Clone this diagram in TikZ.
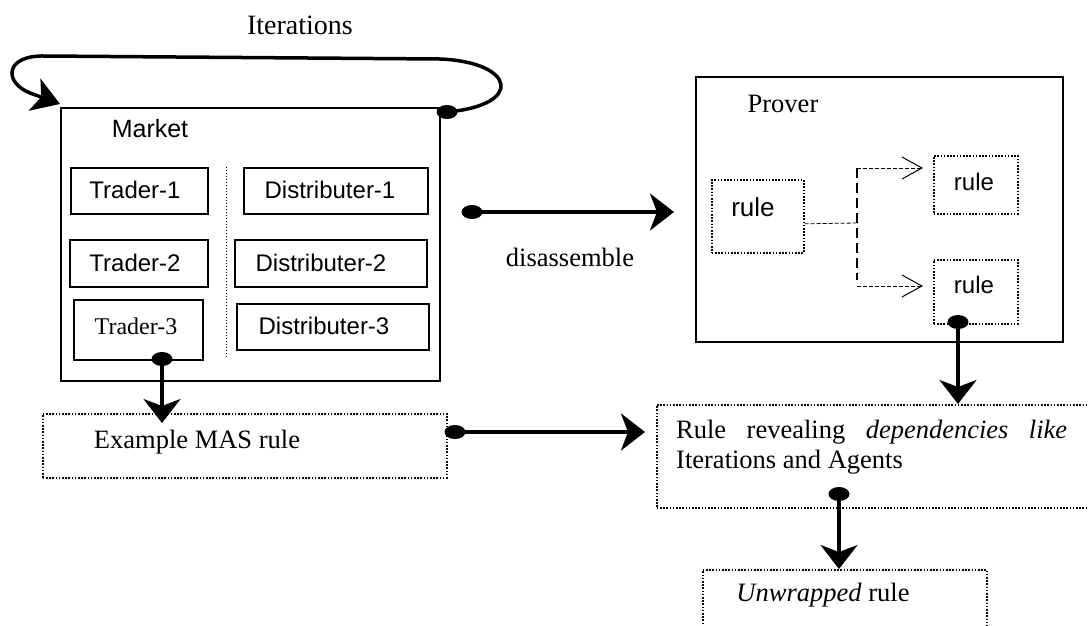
\documentclass[tikz,border=0pt]{standalone}
\usepackage{fontspec}
\setmainfont{Liberation Serif}
\setsansfont{Liberation Sans}
\usetikzlibrary{arrows.meta,shapes.geometric}
\begin{document}
\begin{tikzpicture}[x=1pt,y=-1pt,
  solidbox/.style={draw, line width=1.5pt, inner sep=0pt, anchor=north west},
  dotbox/.style={draw, line width=1.6pt, dash pattern=on 1.6pt off 1.6pt, inner sep=0pt, anchor=north west},
  sf/.style={font=\sffamily\fontsize{24}{27}\selectfont, inner sep=0pt},
  rm/.style={font=\rmfamily\fontsize{26.5}{30}\selectfont, inner sep=0pt},
  dot/.style={ellipse, fill=black, minimum width=21pt, minimum height=14pt, inner sep=0pt},
  arr/.style={line width=3.5pt, -{Stealth[length=24pt,width=37pt,inset=7pt]}},
  dashthin/.style={line width=0.8pt, dash pattern=on 4pt off 2pt},
  dashthick/.style={line width=1.6pt, dash pattern=on 10pt off 5pt},
  openarr/.style={-{Straight Barb[length=20pt,width=22pt,line width=1pt]}},
]
\useasboundingbox (0,0) rectangle (1088,625);
\clip (0,0) rectangle (1088,625);

% Market
\node[solidbox, minimum width=379pt, minimum height=273pt] (market) at (60,107) {};
\node[sf, font=\sffamily\fontsize{25}{28}\selectfont] (marketlbl) at (150,129) {Market};
\node[solidbox, minimum width=137pt, minimum height=46pt] (tr1) at (70,167) {};
\node[sf] (tr1t) at (135,190) {Trader-1};
\node[solidbox, minimum width=138pt, minimum height=47pt] (tr2) at (69,239) {};
\node[sf] (tr2t) at (135,263) {Trader-2};
\node[solidbox, minimum width=129pt, minimum height=60pt] (tr3) at (73,299) {};
\node[rm, font=\rmfamily\fontsize{24}{28}\selectfont] (tr3t) at (136,326) {Trader-3};
\node[solidbox, minimum width=184pt, minimum height=46pt] (ds1) at (243,167) {};
\node[sf] (ds1t) at (330,190) {Distributer-1};
\node[solidbox, minimum width=192pt, minimum height=47pt] (ds2) at (234,239) {};
\node[sf] (ds2t) at (321,263) {Distributer-2};
\node[solidbox, minimum width=192pt, minimum height=46pt] (ds3) at (236,303) {};
\node[sf] (ds3t) at (324,326) {Distributer-3};
\coordinate (sepT) at (226,167);
\coordinate (sepB) at (226,357);
\draw[line width=1pt, dash pattern=on 1pt off 2pt] (sepT) -- (sepB);

% Iterations loop
\node[rm, font=\rmfamily\fontsize{28}{32}\selectfont] (iterlbl) at (300,25) {Iterations};
\node[dot] (dl) at (447,112) {};
\coordinate (loopend) at (60,104);
\draw[line width=3.5pt, -{Stealth[length=27pt,width=34pt,inset=7pt]}]
  (dl.center) .. controls (525,105) and (515,62) .. (440,59) -- (45,56)
  .. controls (5,55) and (3,82) .. (30,93) -- (loopend);

% Example MAS rule
\node[dotbox, minimum width=404pt, minimum height=64pt] (mas) at (42,413) {};
\node[rm] (mast) at (197,442) {Example MAS rule};
\node[dot] (d3) at (162,359) {};
\coordinate (t3) at (162,423);
\draw[arr] (d3.center) -- (t3);

% Prover
\node[solidbox, minimum width=367pt, minimum height=265pt] (prover) at (695,76) {};
\node[rm] (proverlbl) at (783,104) {Prover};
\node[dotbox, minimum width=92pt, minimum height=73pt] (rule0) at (711,179) {};
\node[sf, font=\sffamily\fontsize{26}{29}\selectfont] (rule0t) at (753,207) {rule};
\node[dotbox, minimum width=84pt, minimum height=58pt] (rule1) at (933,155) {};
\node[sf] (rule1t) at (974,182) {rule};
\node[dotbox, minimum width=84pt, minimum height=64pt] (rule2) at (933,259) {};
\node[sf] (rule2t) at (974,285) {rule};
\coordinate (jm) at (857,223);
\coordinate (jt) at (857,168);
\coordinate (jb) at (857,280);
\coordinate (jb2) at (857,286);
\coordinate (a1) at (923,168);
\coordinate (a2) at (923,286);
\draw[dashthin] ([yshift=-7.5pt]rule0.east) -- (jm);
\draw[dashthick] (jt) -- (jb);
\draw[dashthin, openarr] (jt) -- (a1);
\draw[dashthin, openarr] (jb2) -- (a2);

% disassemble
\node[dot] (dd) at (472,212) {};
\coordinate (td) at (674,212);
\draw[arr] (dd.center) -- (td);
\node[rm] (disl) at (570,257) {disassemble};

% Rule revealing
\node[dotbox, minimum width=439pt, minimum height=103pt] (rr) at (656,404) {};
\node[rm, anchor=base west] (rrt1) at (676,438) {\makebox[391pt][s]{Rule revealing \textit{dependencies like}}};
\node[rm, anchor=base west] (rrt2) at (676,468) {Iterations and Agents};
\node[dot] (dm) at (455,432) {};
\coordinate (tm) at (645,432);
\draw[arr] (dm.center) -- (tm);
\node[dot] (dp) at (958,322) {};
\coordinate (tp) at (958,404);
\draw[arr] (dp.center) -- (tp);

% Unwrapped
\node[dotbox, minimum width=284pt, minimum height=80pt] (uw) at (702,569) {};
\node[rm] (uwt) at (823,595) {\textit{Unwrapped} rule};
\node[dot] (dr) at (839,494) {};
\coordinate (tr) at (839,569);
\draw[arr] (dr.center) -- (tr);
\end{tikzpicture}
\end{document}
